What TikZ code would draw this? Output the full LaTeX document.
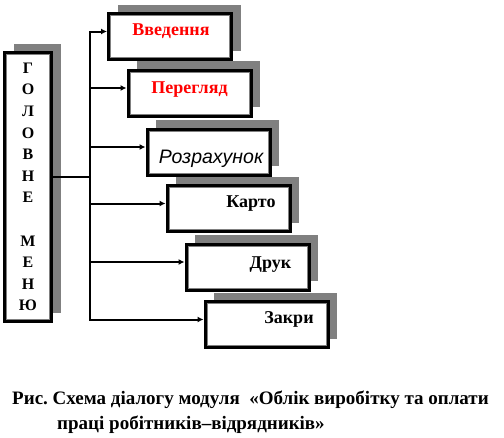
\documentclass[tikz,border=0pt]{standalone}
\usepackage{fontspec}
\setmainfont{Liberation Serif}
\newfontfamily\arialfont{Liberation Sans}
\usetikzlibrary{arrows.meta,shadows}
\frenchspacing
\begin{document}
\begin{tikzpicture}[x=1pt,y=-1pt,
  menubox/.style={draw,line width=3pt,fill=white,inner sep=0pt,minimum width=123pt,minimum height=46pt,
    drop shadow={shadow xshift=9pt,shadow yshift=9pt,fill=black!50,opacity=1},
    path picture={\draw[black!50,line width=1pt] ([shift={(2pt,2pt)}]path picture bounding box.south west) rectangle ([shift={(-2pt,-2pt)}]path picture bounding box.north east);}},
  lbl/.style={font=\fontsize{18}{21}\selectfont\bfseries,inner sep=0pt,anchor=base},
  captext/.style={font=\fontsize{19}{22}\selectfont\bfseries,inner sep=0pt,anchor=base},
  wire/.style={line width=2pt},
  link/.style={wire,-{Latex[length=6pt,width=6pt]}}]
\useasboundingbox (0,0) rectangle (504,437);
% main menu
\node[menubox,minimum width=47pt,minimum height=269pt,align=center,
  font=\fontsize{16}{21.6}\selectfont\bfseries] (menu) at (28,187)
  {Г\\О\\Л\\О\\В\\Н\\Е\\\mbox{}\\М\\Е\\Н\\Ю};
% items, lowest first so the shadows stay behind
\node[menubox] (zakr) at (266.5,324.5) {};
\node[menubox] (druk) at (247.5,267) {};
\node[menubox] (karto) at (228.5,208.5) {};
\node[menubox] (rozr) at (208.5,152) {};
\node[menubox] (pere) at (189.5,93) {};
\node[menubox] (vved) at (170,36.5) {};
\node[lbl,text=red] (vved-t) at (171,35) {Введення};
\node[lbl,text=red] (pere-t) at (189.5,93.5) {Перегляд};
\node[lbl,font=\fontsize{19.5}{22}\selectfont\arialfont\itshape] (rozr-t) at (211,163.5) {Розрахунок};
\node[lbl] (karto-t) at (251,207) {Карто};
\node[lbl] (druk-t) at (270.5,268) {Друк};
\node[lbl] (zakr-t) at (289,323) {Закри};
% wiring
\coordinate (bus) at (90,177);
\coordinate (vved-in) at ([yshift=5pt]vved.west);
\coordinate (pere-in) at ([yshift=5pt]pere.west);
\coordinate (rozr-in) at ([yshift=5pt]rozr.west);
\coordinate (karto-in) at ([yshift=5pt]karto.west);
\coordinate (druk-in) at ([yshift=5pt]druk.west);
\coordinate (zakr-in) at ([yshift=5pt]zakr.west);
\draw[wire] (menu.east |- bus) -- (bus);
\draw[link] (bus) |- (vved-in);
\draw[link] (bus) |- (pere-in);
\draw[link] (bus) |- (rozr-in);
\draw[link] (bus) |- (karto-in);
\draw[link] (bus) |- (druk-in);
\draw[link] (bus) |- (zakr-in);
% caption
\node[captext] (cap1) at (250.5,404) {Рис. Схема діалогу модуля~ «Облік виробітку та оплати};
\node[captext] (cap2) at (191,429) {праці робітників–відрядників»};
\end{tikzpicture}
\end{document}
